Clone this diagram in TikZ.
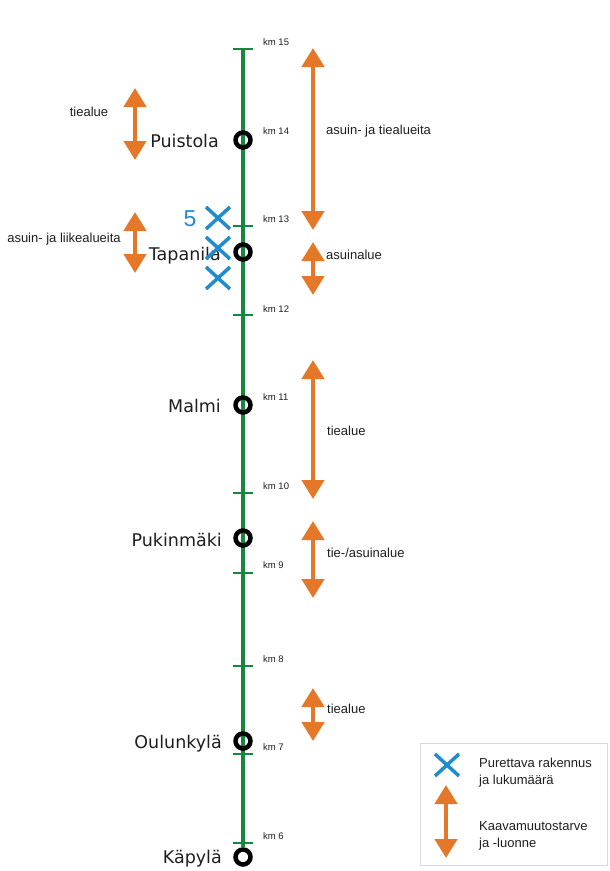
\documentclass[tikz,border=0pt]{standalone}
\usepackage{fontspec}
\setmainfont{Liberation Sans}
\newfontfamily\asemafont{DejaVu Sans}
\usepackage{xcolor}
\usetikzlibrary{arrows.meta, positioning, backgrounds}
\definecolor{rata}{RGB}{22,135,62}
\definecolor{kaava}{RGB}{228,120,40}
\definecolor{purku}{RGB}{30,140,205}
\definecolor{teksti}{RGB}{30,30,30}

\begin{document}
\begin{tikzpicture}[x=1pt, y=-1pt,
        asema/.style={circle, draw=black, line width=4.5pt, minimum size=15pt, inner sep=0pt, fill=none},
        nimi/.style={anchor=east, inner sep=0pt, text=teksti, font=\asemafont\fontsize{17.5}{20}\selectfont},
        kmlabel/.style={anchor=west, inner sep=0pt, text=teksti, font=\fontsize{9.5}{11}\selectfont},
        selite/.style={anchor=west, inner sep=0pt, align=left, text=teksti, font=\fontsize{13}{17}\selectfont},
        kaavanuoli/.style={{Triangle[width=22pt,length=19pt]}-{Triangle[width=22pt,length=19pt]}, line width=4.5pt, draw=kaava},
        risti/.style={draw=purku, line width=3.5pt},
        track/.style={draw=rata, line width=3.5pt}
    ]
        \useasboundingbox (0,0) rectangle (610,871);
        % asemat
        \node[asema] (puistola) at (243,140) {};
        \node[asema] (tapanila) at (243,252) {};
        \node[asema] (malmi) at (243,405) {};
        \node[asema] (pukinmaki) at (243,538) {};
        \node[asema] (oulunkyla) at (243,741) {};
        \node[asema] (kapyla) at (243,857) {};
        \coordinate (alku) at (243,49);
        \begin{scope}[on background layer]
            \draw[track] (alku) -- (kapyla.north);
            % km-merkit
            \foreach \km/\y in {15/49, 13/226, 12/315, 10/493, 9/573, 8/666, 7/754, 6/843} {
                \coordinate (km\km) at (243,\y);
                \draw[rata, line width=2.8pt] ([xshift=-10pt]km\km) -- ([xshift=10pt]km\km);
            }
        \end{scope}
        \foreach \km/\y in {15/42, 14/131, 13/219, 12/309, 11/397, 10/486, 9/565, 8/659, 7/747, 6/836}
            \node[kmlabel] (kmt\km) at (263,\y) {km \km};
        \node[nimi] (puistolanimi) at (219,141) {Puistola};
        \node[nimi] (tapanilanimi) at (221,256) {Tapanila};
        \node[nimi] (malminimi) at (221,406) {Malmi};
        \node[nimi] (pukinmakinimi) at (222,540) {Pukinmäki};
        \node[nimi] (oulunkylanimi) at (222,744) {Oulunkylä};
        \node[nimi] (kapylanimi) at (222,859) {Käpylä};
        % purettavat rakennukset
        \foreach \y in {218, 248, 278}
            \draw[risti] (206,\y-11) -- (230,\y+11) (206,\y+11) -- (230,\y-11);
        \node[inner sep=0pt, text=purku, font=\fontsize{23}{26}\selectfont] (lukum) at (190,219) {5};
        % kaavamuutokset
        \foreach \x/\ya/\yb in {135/88/160, 135/212/273, 313/48/230, 313/242/295, 313/360/499, 313/521/598, 313/688/741}
            \draw[kaavanuoli] (\x,\ya) -- (\x,\yb);
        \node[selite, anchor=center] (puistolaalue) at (89,112) {tiealue};
        \node[selite, anchor=center] (tapanilaalue) at (64,239) {asuin- ja liikealueita};
        \node[selite] (alue1) at (326,131) {asuin- ja tiealueita};
        \node[selite] (alue2) at (326,255) {asuinalue};
        \node[selite] (alue3) at (327,431) {tiealue};
        \node[selite] (alue4) at (327,553) {tie-/asuinalue};
        \node[selite] (alue5) at (327,709) {tiealue};
        % selite
        \draw[black!15, line width=0.8pt] (420,743) rectangle (607,865);
        \draw[risti] (435,754) -- (459,776) (435,776) -- (459,754);
        \draw[kaavanuoli] (446,785) -- (446,858);
        \node[selite] (selite1) at (479,773) {Purettava rakennus\\ja lukumäärä};
        \node[selite] (selite2) at (479,836) {Kaavamuutostarve\\ja -luonne};
    \end{tikzpicture}
\end{document}
